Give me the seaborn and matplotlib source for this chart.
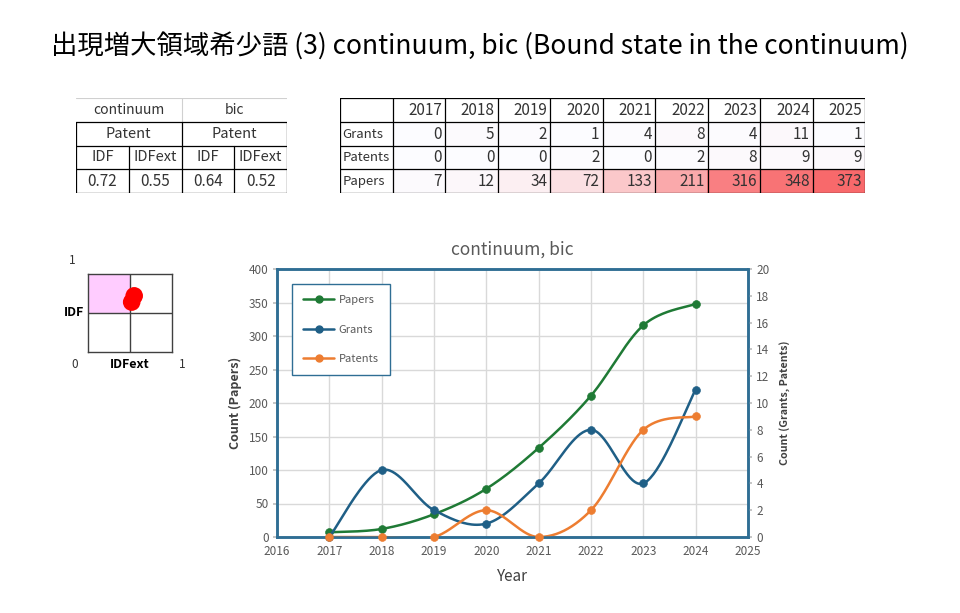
import numpy as np
import matplotlib
matplotlib.use('Agg')
import matplotlib.pyplot as plt
import seaborn as sns
from matplotlib.colors import LinearSegmentedColormap
from matplotlib.lines import Line2D

# data
table_years = [2017, 2018, 2019, 2020, 2021, 2022, 2023, 2024, 2025]
grants = [0, 5, 2, 1, 4, 8, 4, 11, 1]
patents = [0, 0, 0, 2, 0, 2, 8, 9, 9]
papers = [7, 12, 34, 72, 133, 211, 316, 348, 373]
row_labels = ['Grants', 'Patents', 'Papers']

chart_years = table_years[:8]
terms = ['continuum', 'bic']
idf = [0.72, 0.64]
idfext = [0.55, 0.52]

W, H = 960, 613
sns.set_theme(style='white')
plt.rcParams['font.family'] = ['Noto Sans CJK JP', 'DejaVu Sans']

fig = plt.figure(figsize=(W / 100, H / 100), dpi=100)


def px(x0, y0, x1, y1):
    return [x0 / W, 1 - y1 / H, (x1 - x0) / W, (y1 - y0) / H]


def smooth(x, y, n=40):
    # Excel-like smoothed line (Catmull-Rom as cubic Bezier)
    x = np.asarray(x, float)
    y = np.asarray(y, float)
    qx = np.r_[x[0], x, x[-1]]
    qy = np.r_[y[0], y, y[-1]]
    t = np.linspace(0, 1, n)[:, None]
    out = []
    for k in range(len(x) - 1):
        p0 = np.array([qx[k], qy[k]])
        p1 = np.array([qx[k + 1], qy[k + 1]])
        p2 = np.array([qx[k + 2], qy[k + 2]])
        p3 = np.array([qx[k + 3], qy[k + 3]])
        c1 = p1 + (p2 - p0) / 6
        c2 = p2 - (p3 - p1) / 6
        seg = ((1 - t) ** 3) * p1 + 3 * ((1 - t) ** 2) * t * c1 + 3 * (1 - t) * t ** 2 * c2 + t ** 3 * p2
        out.append(seg if k == 0 else seg[1:])
    s = np.vstack(out)
    return s[:, 0], s[:, 1]


txt = '#333333'

# title
fig.text(0.5, 1 - 46 / H, '出現増大領域希少語 (3) continuum, bic (Bound state in the continuum)',
         ha='center', va='center', fontsize=19, color='black')

# left table
axl = fig.add_axes(px(76, 98, 287, 193))
axl.set_xlim(0, 4)
axl.set_ylim(4, 0)
axl.axis('off')
axl.plot([0, 4], [0, 0], color='#D0D0D0', lw=0.8)
axl.plot([2, 2], [0, 1], color='#D0D0D0', lw=0.8)
for yy in [1, 2, 3, 4]:
    axl.plot([0, 4], [yy, yy], color='black', lw=0.9)
axl.plot([0, 0], [1, 4], color='black', lw=0.9)
axl.plot([4, 4], [1, 4], color='black', lw=0.9)
axl.plot([2, 2], [1, 4], color='black', lw=0.9)
axl.plot([1, 1], [2, 4], color='black', lw=0.9)
axl.plot([3, 3], [2, 4], color='black', lw=0.9)
vals = [idf[0], idfext[0], idf[1], idfext[1]]
for i, term in enumerate(terms):
    axl.text(2 * i + 1, 0.5, term, ha='center', va='center', fontsize=10, color=txt)
    axl.text(2 * i + 1, 1.5, 'Patent', ha='center', va='center', fontsize=10.5, color=txt)
    axl.text(2 * i + 0.5, 2.5, 'IDF', ha='center', va='center', fontsize=10.5, color=txt)
    axl.text(2 * i + 1.5, 2.5, 'IDFext', ha='center', va='center', fontsize=10.5, color=txt)
for j, v in enumerate(vals):
    axl.text(j + 0.5, 3.5, f'{v:.2f}', ha='center', va='center', fontsize=11, color=txt)

# right table (heatmap cells)
cmap = LinearSegmentedColormap.from_list('wr', ['#FCFCFF', '#F8696B'])
mat = np.array([grants, patents, papers])
axh = fig.add_axes(px(392, 122, 865, 193))
sns.heatmap(mat, ax=axh, cmap=cmap, vmin=0, vmax=max(papers), cbar=False,
            xticklabels=False, yticklabels=False, linewidths=0)
for i in range(mat.shape[0]):
    for j in range(mat.shape[1]):
        axh.text(j + 0.95, i + 0.52, str(mat[i, j]), ha='right', va='center', fontsize=11, color=txt)

axt = fig.add_axes(px(340, 98, 865, 193))
axt.patch.set_alpha(0)
axt.set_xlim(0, 10)
axt.set_ylim(4, 0)
axt.axis('off')
for yy in range(5):
    axt.plot([0, 10], [yy, yy], color='black', lw=0.9)
for xx in range(11):
    axt.plot([xx, xx], [0, 4], color='black', lw=0.9)
for j, yr in enumerate(table_years):
    axt.text(j + 1.95, 0.52, str(yr), ha='right', va='center', fontsize=11, color=txt)
for i, lab in enumerate(row_labels):
    axt.text(0.05, i + 1.52, lab, ha='left', va='center', fontsize=9.5, color=txt)

# quadrant plot
axq = fig.add_axes(px(88, 274, 172, 352))
axq.set_xlim(0, 1)
axq.set_ylim(0, 1)
axq.fill_between([0, 0.5], 0.5, 1, color='#FFCCFF', lw=0)
axq.axhline(0.5, color='#404040', lw=1)
axq.axvline(0.5, color='#404040', lw=1)
sns.scatterplot(x=idfext, y=idf, ax=axq, color='#FF0000', s=160, edgecolor='none', zorder=5, clip_on=False)
axq.set_xticks([])
axq.set_yticks([])
axq.set_xlabel('')
axq.set_ylabel('')
for sp in axq.spines.values():
    sp.set_visible(True)
    sp.set_color('#404040')
    sp.set_linewidth(1)
fig.text(72 / W, 1 - 261 / H, '1', ha='center', va='center', fontsize=8.5, color=txt)
fig.text(75 / W, 1 - 365 / H, '0', ha='center', va='center', fontsize=8.5, color=txt)
fig.text(182 / W, 1 - 365 / H, '1', ha='center', va='center', fontsize=8.5, color=txt)
fig.text(84 / W, 1 - 312 / H, 'IDF', ha='right', va='center', fontsize=9, fontweight='bold', color='black')
fig.text(130 / W, 1 - 365 / H, 'IDFext', ha='center', va='center', fontsize=9, fontweight='bold', color='black')

# main chart
c_pap, c_gr, c_pat = '#1F7A35', '#1F5F86', '#ED7D31'
frame = '#2F6E94'
ax1 = fig.add_axes(px(277, 269, 748, 537))
ax2 = ax1.twinx()

sx, sy = smooth(chart_years, papers[:8])
sns.lineplot(x=sx, y=sy, ax=ax1, color=c_pap, lw=1.8, sort=False, estimator=None)
sns.scatterplot(x=chart_years, y=papers[:8], ax=ax1, color=c_pap, s=32, edgecolor=c_pap, zorder=5)

for vals_, col in [(grants[:8], c_gr), (patents[:8], c_pat)]:
    sx, sy = smooth(chart_years, vals_)
    sns.lineplot(x=sx, y=sy, ax=ax2, color=col, lw=1.8, sort=False, estimator=None)
    sns.scatterplot(x=chart_years, y=vals_, ax=ax2, color=col, s=32, edgecolor=col, zorder=5, clip_on=False)

ax1.set_xlim(2016, 2025)
ax1.set_ylim(0, 400)
ax2.set_ylim(0, 20)
ax1.set_xticks(range(2016, 2026))
ax1.set_yticks(range(0, 401, 50))
ax2.set_yticks(range(0, 21, 2))
ax1.grid(True, color='#D9D9D9', lw=1)
ax1.set_axisbelow(True)
tick_c = '#595959'
ax1.tick_params(axis='both', labelsize=8.5, labelcolor=tick_c, length=3, color='#BFBFBF', pad=3)
ax2.tick_params(axis='y', labelsize=8.5, labelcolor=tick_c, length=3, color='#BFBFBF', pad=3)
for a in (ax1, ax2):
    for sp in a.spines.values():
        sp.set_visible(True)
        sp.set_color(frame)
        sp.set_linewidth(1.8)

ax1.set_title('continuum, bic', fontsize=12.5, color='#595959', pad=10)
ax1.set_xlabel('Year', fontsize=11, color='#404040', labelpad=7)
ax1.set_ylabel('Count (Papers)', fontsize=9, fontweight='bold', color='#404040', labelpad=5)
ax2.set_ylabel('Count (Grants, Patents)', fontsize=7.7, fontweight='bold', color='#404040', labelpad=7)

handles = [Line2D([], [], color=c, lw=1.8, marker='o', markersize=5) for c in (c_pap, c_gr, c_pat)]
leg = ax2.legend(handles, ['Papers', 'Grants', 'Patents'], loc='upper left',
                 bbox_to_anchor=(292 / W, 1 - 284 / H), bbox_transform=fig.transFigure,
                 fontsize=8, labelspacing=1.75, handlelength=2.8, handletextpad=0.4,
                 borderpad=1.0, borderaxespad=0, fancybox=False, framealpha=1)
leg.get_frame().set_edgecolor(frame)
leg.get_frame().set_linewidth(1)
for t in leg.get_texts():
    t.set_color('#595959')

fig.savefig('out.png', dpi=100)
